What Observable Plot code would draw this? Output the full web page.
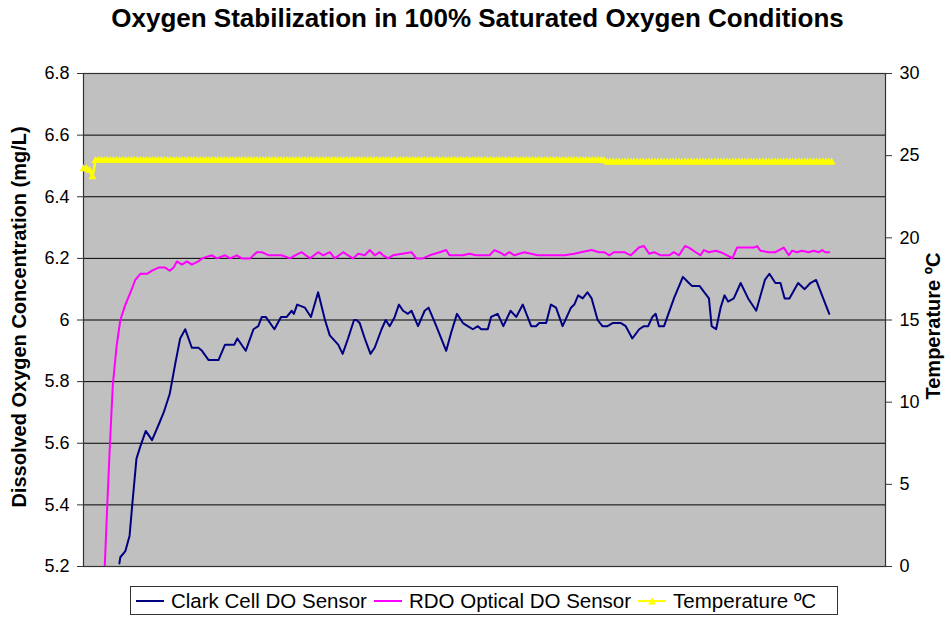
<!DOCTYPE html>
<html><head><meta charset="utf-8">
<script src="https://cdn.jsdelivr.net/npm/d3@7"></script>
<script src="https://cdn.jsdelivr.net/npm/@observablehq/plot@0.6"></script>
<style>
body{margin:0;background:#fff;font-family:"Liberation Sans",Arial,sans-serif;}
#wrap{position:relative;width:951px;height:618px;overflow:hidden;}
#title{position:absolute;left:0;top:3px;width:955px;text-align:center;font-weight:bold;font-size:26px;line-height:30px;color:#000;}
#chart{position:absolute;left:0;top:55px;}
#legend{position:absolute;left:130px;top:586px;width:708px;height:29px;border:1px solid #333;box-sizing:border-box;display:flex;align-items:center;font-size:20.5px;color:#000;padding-left:5px;}
#legend .item{display:flex;align-items:center;margin-right:7px;}
#legend svg{margin-right:7px;}
</style></head>
<body>
<div id="wrap">
<div id="title">Oxygen Stabilization in 100% Saturated Oxygen Conditions</div>
<div id="chart"></div>
<div id="legend"></div>
</div>
<script>
// ---- data ----
const seriesNames = ["Clark Cell DO Sensor", "RDO Optical DO Sensor", "Temperature ºC"];
const yTicks = [5.2, 5.4, 5.6, 5.8, 6.0, 6.2, 6.4, 6.6, 6.8];
const tempTicks = [0, 5, 10, 15, 20, 25, 30];

// Clark cell: [sample, mg/L]
const clarkT = [12,12.3,14,15.4,16.2,17.7,19,20.8,22.9,25.1,26.8,28.8,30.7,32.3,34,36.2,38.4,39.6,41.8,45.1,47.3,50.4,51.4,54.2,56.8,58.4,59.6,60.9,63.8,66,67.9,69.6,70.3,71.4,74,76,78.4,80.7,82.3,85.1,86.6,88.4,90.4,91.2,92.3,94,95.9,97.3,99.6,101,102.3,104,105.4,106.8,108.4,109.6,111.8,114,115.3,117.9,121.2,122.9,124.8,126.8,128.4,130.1,131.8,132.9,135.1,136.2,138.4,140.3,142.7,144.6,146.8,149.6,151.2,152.3,154.6,156.2,157.9,160.1,162.9,164,165.3,166.8,168.4,169.8,171.8,173.4,175.1,176.8,179.6,181.2,183.4,185.7,187.3,188.7,190.1,191.2,192.3,194,195.1,197.3,200.3,202.3,203.4,205.9,209,209.9,211.4,212.9,214.2,215.4,217.3,219.6,222.1,224.8,227.7,229.2,231.2,232.9,234.3,235.9,238.8,241,242.9,244.8,246.8,249.2];
const clarkV = [5.21,5.23,5.25,5.30,5.39,5.55,5.59,5.64,5.61,5.66,5.70,5.76,5.86,5.94,5.97,5.91,5.91,5.90,5.87,5.87,5.92,5.92,5.94,5.90,5.97,5.98,6.01,6.01,5.97,6.01,6.01,6.03,6.02,6.05,6.04,6.01,6.09,6.00,5.95,5.92,5.89,5.94,6.00,6.00,5.99,5.94,5.89,5.91,5.97,6.00,5.98,6.01,6.05,6.03,6.02,6.03,5.98,6.03,6.04,5.98,5.90,5.96,6.02,5.99,5.98,5.97,5.98,5.97,5.97,6.01,6.02,5.98,6.03,6.01,6.05,5.98,5.98,5.99,5.99,6.05,6.04,5.98,6.04,6.05,6.08,6.07,6.09,6.07,6.00,5.98,5.98,5.99,5.99,5.98,5.94,5.97,5.98,5.98,6.01,6.02,5.98,5.98,6.01,6.07,6.14,6.12,6.11,6.11,6.07,5.98,5.97,6.04,6.08,6.06,6.07,6.12,6.07,6.03,6.13,6.15,6.12,6.12,6.07,6.07,6.12,6.10,6.12,6.13,6.08,6.02];

// RDO optical: [sample, mg/L]
const rdoT = [6.6,7.1,7.9,8.8,9.8,11,12.3,14,15.7,17.3,19,21.2,22.9,25.1,27.3,28.8,30.1,31.2,32.9,34.6,36.2,38.4,39.6,42.9,44.6,47.3,49,51.2,52.9,55.7,57.9,59.6,62,66.2,69,70.7,72.9,75.7,78.4,80.1,82.3,84,86.8,88.4,90.1,91.8,94,95.7,97.3,99,100.1,101.8,103.4,109.6,111.2,113.4,115.7,119,121.2,122.3,124.6,126.7,129,131.2,135.7,137.3,139,140.7,142.3,144,147.3,149.6,151.8,154,157.3,160.7,164,166.2,169.8,172.3,174,175.7,177.3,180.7,182.9,185.7,187.3,189,190.7,192.9,195.7,197.3,199,201,202.3,204.6,206.2,207.3,209,211.2,212.9,215.1,216.8,218.4,221.2,224,225.1,226.2,229,231.2,234,235.7,236.8,238.4,240.1,242.3,244,245.7,246.8,247.9,249.2];
const rdoV = [5.08,5.20,5.39,5.59,5.79,5.91,6.00,6.05,6.09,6.13,6.15,6.15,6.16,6.17,6.17,6.16,6.17,6.19,6.18,6.19,6.18,6.19,6.20,6.21,6.20,6.21,6.20,6.21,6.20,6.20,6.22,6.22,6.21,6.21,6.20,6.21,6.22,6.20,6.22,6.21,6.22,6.20,6.22,6.21,6.20,6.215,6.21,6.227,6.21,6.22,6.21,6.20,6.21,6.22,6.20,6.20,6.21,6.22,6.227,6.21,6.21,6.21,6.215,6.21,6.21,6.227,6.22,6.21,6.22,6.21,6.22,6.215,6.21,6.21,6.21,6.21,6.215,6.22,6.227,6.22,6.22,6.21,6.22,6.22,6.21,6.236,6.24,6.215,6.22,6.21,6.21,6.22,6.21,6.24,6.235,6.22,6.21,6.227,6.22,6.225,6.22,6.21,6.20,6.235,6.235,6.235,6.24,6.225,6.22,6.22,6.235,6.21,6.225,6.22,6.225,6.22,6.225,6.22,6.227,6.22,6.22];

// Temperature (ºC), one reading per sample 0..250
const tempV = [
24.2,24.2,24.1,23.7,24.7,24.7,24.7,24.7,24.7,24.7,
24.7,24.7,24.7,24.7,24.7,24.7,24.7,24.7,24.7,24.7,
24.7,24.7,24.7,24.7,24.7,24.7,24.7,24.7,24.7,24.7,
24.7,24.7,24.7,24.7,24.7,24.7,24.7,24.7,24.7,24.7,
24.7,24.7,24.7,24.7,24.7,24.7,24.7,24.7,24.7,24.7,
24.7,24.7,24.7,24.7,24.7,24.7,24.7,24.7,24.7,24.7,
24.7,24.7,24.7,24.7,24.7,24.7,24.7,24.7,24.7,24.7,
24.7,24.7,24.7,24.7,24.7,24.7,24.7,24.7,24.7,24.7,
24.7,24.7,24.7,24.7,24.7,24.7,24.7,24.7,24.7,24.7,
24.7,24.7,24.7,24.7,24.7,24.7,24.7,24.7,24.7,24.7,
24.7,24.7,24.7,24.7,24.7,24.7,24.7,24.7,24.7,24.7,
24.7,24.7,24.7,24.7,24.7,24.7,24.7,24.7,24.7,24.7,
24.7,24.7,24.7,24.7,24.7,24.7,24.7,24.7,24.7,24.7,
24.7,24.7,24.7,24.7,24.7,24.7,24.7,24.7,24.7,24.7,
24.7,24.7,24.7,24.7,24.7,24.7,24.7,24.7,24.7,24.7,
24.7,24.7,24.7,24.7,24.7,24.7,24.7,24.7,24.7,24.7,
24.7,24.7,24.7,24.7,24.7,24.7,24.7,24.7,24.7,24.7,
24.7,24.7,24.7,24.7,24.7,24.6,24.6,24.6,24.6,24.6,
24.6,24.6,24.6,24.6,24.6,24.6,24.6,24.6,24.6,24.6,
24.6,24.6,24.6,24.6,24.6,24.6,24.6,24.6,24.6,24.6,
24.6,24.6,24.6,24.6,24.6,24.6,24.6,24.6,24.6,24.6,
24.6,24.6,24.6,24.6,24.6,24.6,24.6,24.6,24.6,24.6,
24.6,24.6,24.6,24.6,24.6,24.6,24.6,24.6,24.6,24.6,
24.6,24.6,24.6,24.6,24.6,24.6,24.6,24.6,24.6,24.6,
24.6,24.6,24.6,24.6,24.6,24.6,24.6,24.6,24.6,24.6,
24.6];

const colors = ["#000080", "#ff00ff", "#ffff00"];

// ---- build tables ----
const toY = d3.scaleLinear([0, 30], [5.2, 6.8]);
const clark = clarkT.map((t, i) => ({t, v: clarkV[i]}));
const rdo = rdoT.map((t, i) => ({t, v: rdoV[i]}));
const temp = tempV.map((c, i) => ({t: i, v: toY(c)}));
const fmtL = d => d3.format(".1f")(d).replace(/\.0$/, "");

const chart = Plot.plot({
  width: 951,
  height: 525,
  marginTop: 18,
  marginBottom: 14,
  marginLeft: 83,
  marginRight: 66,
  style: {fontFamily: '"Liberation Sans", Arial, sans-serif', fontSize: "18px", background: "transparent", color: "#000", overflow: "visible"},
  x: {domain: [0, 268], axis: null},
  y: {domain: [5.2, 6.8], axis: null},
  marks: [
    Plot.frame({fill: "#c0c0c0", stroke: null}),
    Plot.ruleY(yTicks, {stroke: "#000", strokeWidth: 1}),
    Plot.frame({stroke: "#333", strokeWidth: 1.2}),
    Plot.axisY({anchor: "left", ticks: yTicks, tickSize: 6, tickPadding: 8, tickFormat: fmtL, fontSize: 18, label: null, stroke: "#333"}),
    Plot.axisY({anchor: "right", ticks: tempTicks.map(toY), tickSize: 6, tickPadding: 8, tickFormat: d => String(Math.round(toY.invert(d))), fontSize: 18, label: null, stroke: "#333"}),
    Plot.text(["Dissolved Oxygen Concentration (mg/L)"], {frameAnchor: "left", textAnchor: "middle", dx: -64, dy: -3, rotate: -90, fontWeight: "bold", fontSize: 20, fill: "#000"}),
    Plot.text(["Temperature ºC"], {frameAnchor: "right", textAnchor: "middle", dx: 48, dy: 6, rotate: -90, fontWeight: "bold", fontSize: 20, fill: "#000"}),
    Plot.line(temp, {x: "t", y: "v", stroke: colors[2], strokeWidth: 2.5}),
    Plot.dot(temp, {x: "t", y: "v", symbol: "triangle", r: 3, fill: colors[2], stroke: null}),
    Plot.line(rdo, {x: "t", y: "v", stroke: colors[1], strokeWidth: 2, clip: true}),
    Plot.line(clark, {x: "t", y: "v", stroke: colors[0], strokeWidth: 2, clip: true})
  ]
});
document.getElementById("chart").appendChild(chart);

// ---- legend ----
const leg = document.getElementById("legend");
seriesNames.forEach((name, i) => {
  const item = document.createElement("div");
  item.className = "item";
  const marker = i === 2 ? `<path d="M14,2.5 L18,9.5 L10,9.5 Z" fill="${colors[i]}"/>` : "";
  item.innerHTML = `<svg width="28" height="12"><line x1="0" x2="28" y1="6" y2="6" stroke="${colors[i]}" stroke-width="2"/>${marker}</svg><span>${name}</span>`;
  leg.appendChild(item);
});
</script>
</body></html>
